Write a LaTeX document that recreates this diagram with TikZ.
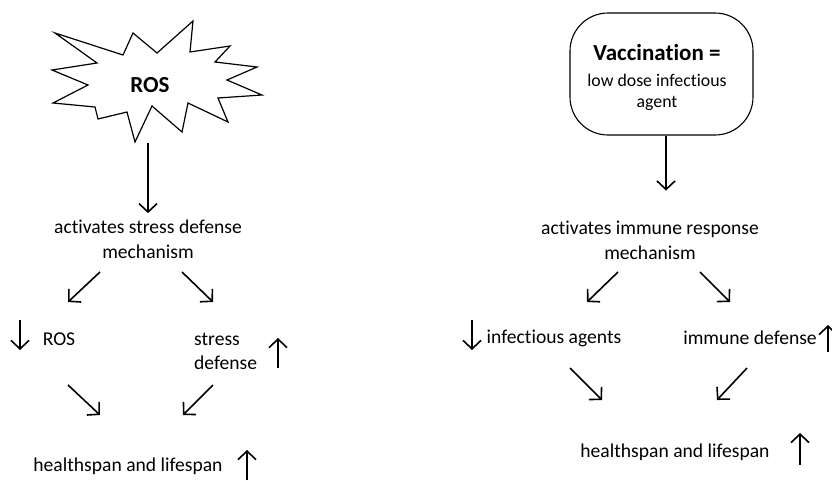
\documentclass[tikz,border=0pt]{standalone}
\usepackage{fontspec}
\setmainfont{Carlito}[Ligatures={NoCommon,NoRare}]
\usetikzlibrary{arrows.meta,positioning}
\tikzset{auto,
  txt/.style={font=\fontsize{19.6}{24.5}\selectfont, align=center, inner sep=1pt},
  big/.style={font=\fontsize{23}{26}\selectfont\bfseries, inner sep=1pt},
  arr/.style={-{Straight Barb[length=8.5pt,width=18pt]}, line width=1.6pt},
  vbox/.style={draw, line width=1.1pt, rounded corners=38pt, minimum width=183pt,
    minimum height=122pt, inner sep=0pt}}

\begin{document}
\begin{tikzpicture}[x=1pt, y=-1pt]
  \useasboundingbox (0,0) rectangle (832,480);
  % left: ROS
  \draw[line width=1.2pt] (262,95) -- (218,98) -- (228,122) -- (188,103) -- (182,132)
    -- (152,106) -- (135,142) -- (127,112) -- (98,119) -- (95,107) -- (53,103)
    -- (88,85) -- (52,70) -- (97,63) -- (55,33) -- (123,55) -- (133,33) -- (157,53)
    -- (193,21) -- (190,52) -- (230,46) -- (215,62) -- (257,67) -- (227,80) -- cycle;
  \node[big] (l0) at (150,85) {ROS};
  \coordinate (s0) at (148,143);
  \node[txt] (l1) at (148,239.5) {activates stress defense\\mechanism};
  \node[txt] (l2) at (59,339) {ROS};
  \node[txt, align=left, anchor=west] (l3) at (193,351.5) {stress\\defense};
  \node[txt] (l4) at (128,466) {healthspan and lifespan};
  \draw[arr, shorten >=6pt] (s0) -- (l1);
  \coordinate (a1) at (100,272); \coordinate (b1) at (68,302);
  \coordinate (a2) at (182,272); \coordinate (b2) at (213,302);
  \coordinate (a3) at (68,385);  \coordinate (b3) at (100,415);
  \coordinate (a4) at (213,385); \coordinate (b4) at (183,415);
  \draw[arr] (a1) -- (b1);
  \draw[arr] (a2) -- (b2);
  \draw[arr] (a3) -- (b3);
  \draw[arr] (a4) -- (b4);
  \draw[arr] (20,320) -- (20,350);
  \draw[arr] (278,368) -- (278,338);
  \draw[arr] (247,480) -- (247,450);

  % right: vaccination
  \node[vbox] (r0) at (661.5,74) {};
  \node[align=center, inner sep=0pt, font=\fontsize{17.8}{21}\selectfont]
    (r0t) at ([xshift=-4.5pt, yshift=-3pt]r0.center)
    {{\fontsize{23}{26}\selectfont\bfseries Vaccination =}\\[5pt]
     low dose infectious\\agent};
  \node[txt] (r1) at (650,240.5) {activates immune response\\mechanism};
  \node[txt] (r2) at (554,338) {infectious agents};
  \node[txt] (r3) at (750,338) {immune defense};
  \node[txt] (r4) at (675,452) {healthspan and lifespan};
  \draw[arr] ([xshift=4.5pt]r0.south) -- ++(0,55);
  \coordinate (c1) at (618,272); \coordinate (d1) at (587,302);
  \coordinate (c2) at (700,272); \coordinate (d2) at (730,302);
  \coordinate (c3) at (570,368); \coordinate (d3) at (602,400);
  \coordinate (c4) at (747,368); \coordinate (d4) at (717,400);
  \draw[arr] (c1) -- (d1);
  \draw[arr] (c2) -- (d2);
  \draw[arr] (c3) -- (d3);
  \draw[arr] (c4) -- (d4);
  \draw[arr] (472,320) -- (472,350);
  \draw[arr] (828,352) -- (828,325);
  \draw[arr] (800,465) -- (800,433);
\end{tikzpicture}
\end{document}
